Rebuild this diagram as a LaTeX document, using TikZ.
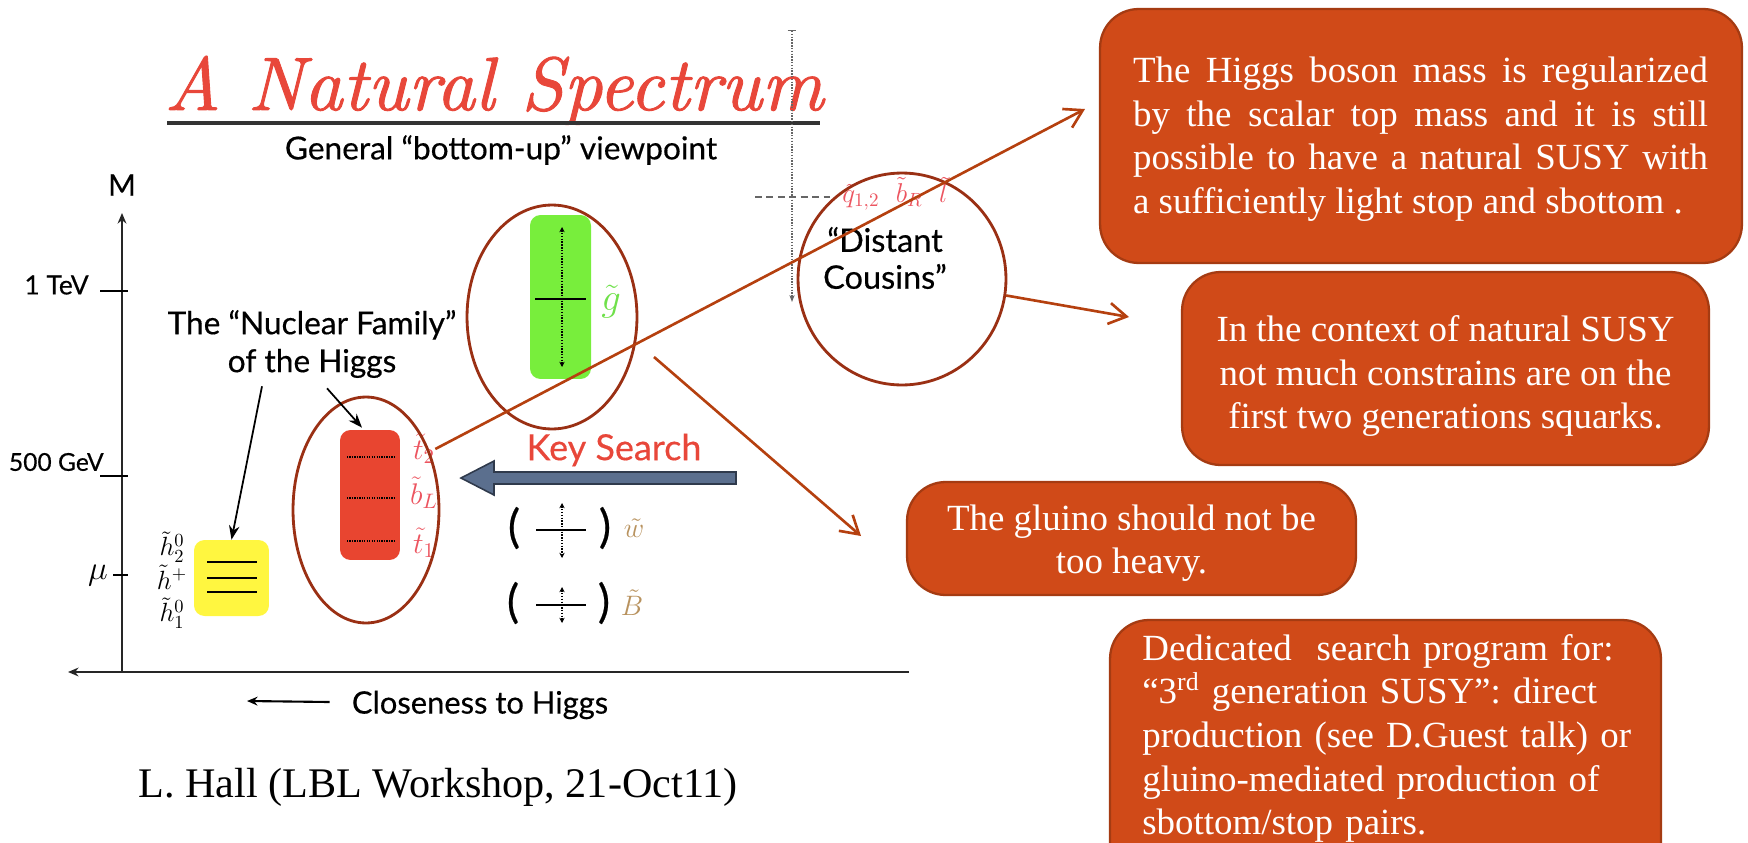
\documentclass[tikz,border=0pt]{standalone}
\usepackage{fix-cm}
\usepackage{fontspec}
\newfontfamily\boxfont{Liberation Serif}
\newfontfamily\gill[FakeBold=0.4]{Lato}
\newfontfamily\titlefont[FakeBold=1.2]{lmroman10-italic.otf}
\usetikzlibrary{arrows.meta,shapes.geometric,calc}
\definecolor{boxfill}{HTML}{D04A18}
\definecolor{boxdraw}{HTML}{A53B12}
\definecolor{conn}{HTML}{B5400F}
\definecolor{ell}{HTML}{9A3014}
\definecolor{titlered}{HTML}{E8473A}
\definecolor{sred}{HTML}{E84530}
\definecolor{sgreen}{HTML}{78EE3C}
\definecolor{syellow}{HTML}{FFF640}
\definecolor{lblred}{HTML}{EC5560}
\definecolor{lblgreen}{HTML}{6FE04A}
\definecolor{tanlbl}{HTML}{B8925E}
\definecolor{arrowfill}{HTML}{5B6F8E}
\definecolor{arrowdraw}{HTML}{2F3A4C}
\begin{document}
\begin{tikzpicture}[x=0.02cm, y=-0.02cm,
  infobox/.style={draw=boxdraw, line width=1.3pt, fill=boxfill, rounded corners=22pt, inner sep=0pt},
  boxtext/.style={inner sep=0pt, text=white, font=\boxfont\fontsize{21}{24.8}\selectfont},
  connector/.style={draw=conn, line width=1.5pt, -{Straight Barb[length=10pt,width=12pt]}},
  oval/.style={draw=ell, line width=1.6pt, ellipse, inner sep=0pt},
  sanslbl/.style={font=\gill\fontsize{16}{21}\selectfont, inner sep=0pt},
  mathlbl/.style={font=\fontsize{16}{18}\selectfont, inner sep=0pt},
  paren/.style={font=\gill\fontsize{26}{28}\selectfont, inner sep=0pt},
  axisline/.style={line width=1.3pt, draw=black!85, -{Stealth[length=6pt,width=5pt]}},
  ptr/.style={line width=1pt, -{Stealth[length=8pt,width=6pt]}},
  dotline/.style={line width=1pt, dash pattern=on 0.7pt off 0.7pt},
  dotarrow/.style={line width=0.7pt, dash pattern=on 0.8pt off 0.8pt, {Stealth[length=3pt,width=3pt]}-{Stealth[length=3pt,width=3pt]}},
  level/.style={line width=1.5pt, draw=black}
]
\useasboundingbox (0,0) rectangle (1748,842);
\clip (0,0) rectangle (1748,842);

% ---- title ----
\node[anchor=base, inner sep=0pt, text=titlered, font=\titlefont\fontsize{43}{46}\selectfont] (title) at (494,110) {A Natural Spectrum};
\draw[line width=2.3pt, draw=black!80] (167,123) -- (820,123);
\node[sanslbl, font=\gill\fontsize{18}{20}\selectfont] (sub) at (501,150) {General “bottom-up” viewpoint};

% ---- axes ----
\coordinate (origin) at (122,672);
\coordinate (ytop) at (122,213);
\coordinate (xleft) at (68,672);
\coordinate (xright) at (909,672);
\draw[axisline] (origin) -- (ytop);
\draw[axisline, line width=1.6pt] (xright) -- (xleft);
\node[sanslbl, font=\gill\fontsize{17}{20}\selectfont] (M) at (122,185) {M};
\draw[line width=1.2pt] (100,291) -- (128,291);
\draw[line width=1.2pt] (100,476) -- (128,476);
\draw[line width=1.2pt] (113,575) -- (128,575);
\node[sanslbl, anchor=east, font=\gill\fontsize{15}{18}\selectfont] (tev) at (89,285) {1 TeV};
\node[sanslbl, anchor=east, font=\gill\fontsize{14}{18}\selectfont] (gev) at (104,462) {500 GeV};
\node[mathlbl, font=\fontsize{19}{20}\selectfont] (mu) at (98,576) {$\mu$};

% ---- higgsinos ----
\node[fill=syellow, rounded corners=6pt, minimum width=1.5cm, minimum height=1.52cm, inner sep=0pt] (yel) at (231.5,578) {};
\draw[level] (207,562) -- (257,562);
\draw[level] (207,578) -- (257,578);
\draw[level] (207,592) -- (257,592);
\node[mathlbl, font=\fontsize{15}{16}\selectfont] (h2) at (172,547) {$\tilde h_2^0$};
\node[mathlbl, font=\fontsize{15}{16}\selectfont] (hp) at (172,577) {$\tilde h^{+}$};
\node[mathlbl, font=\fontsize{15}{16}\selectfont] (h1) at (172,613) {$\tilde h_1^0$};

% ---- stops ----
\node[fill=sred, rounded corners=6pt, minimum width=1.2cm, minimum height=2.6cm, inner sep=0pt] (redb) at (370,495) {};
\draw[dotline] (347,457) -- (395,457);
\draw[dotline] (347,498) -- (395,498);
\draw[dotline] (347,541) -- (395,541);
\node[mathlbl, text=lblred, font=\fontsize{17}{18}\selectfont] (t2) at (424,449) {$\tilde t_2$};
\node[mathlbl, text=lblred, font=\fontsize{17}{18}\selectfont] (bL) at (424,493) {$\tilde b_L$};
\node[mathlbl, text=lblred, font=\fontsize{17}{18}\selectfont] (t1) at (424,543) {$\tilde t_1$};
\node[oval, minimum width=2.92cm, minimum height=4.52cm] (ovA) at (366,510) {};

% ---- nuclear family label ----
\node[sanslbl, font=\gill\fontsize{18}{21.6}\selectfont, align=center] (nf) at (312,344) {The “Nuclear Family”\\of the Higgs};
\draw[ptr] ($(nf.south)+(-50,8)$) -- (yel.north);
\draw[ptr] ($(nf.south)+(15,10)$) -- ($(redb.north)+(-8,-2)$);

% ---- gluino ----
\node[fill=sgreen, rounded corners=6pt, minimum width=1.22cm, minimum height=3.28cm, inner sep=0pt] (grn) at (560.5,297) {};
\draw[level] (535,299) -- (586,299);
\draw[dotarrow] (562,227) -- (562,367);
\node[mathlbl, text=lblgreen, font=\fontsize{22}{24}\selectfont] (gl) at (611,302) {$\tilde g$};
\node[oval, minimum width=3.4cm, minimum height=4.48cm] (ovB) at (552,317) {};

% ---- key search ----
\node[sanslbl, text=titlered, font=\gill\fontsize{20.5}{24}\selectfont] (ks) at (614,450) {Key Search};
\draw[fill=arrowfill, draw=arrowdraw, line width=0.9pt, line join=miter]
  (461,478) -- (494,461) -- (494,472) -- (736,472) -- (736,484) -- (494,484) -- (494,495) -- cycle;

% ---- electroweakinos ----
\node[paren] (pw1) at (514,528) {(};
\node[paren] (pw2) at (605,528) {)};
\draw[line width=1.2pt] (536,530) -- (586,530);
\draw[dotarrow] (562,503) -- (562,558);
\node[mathlbl, text=tanlbl, font=\fontsize{16}{17}\selectfont] (wino) at (634,528) {$\tilde w$};
\node[paren] (pb1) at (513,603) {(};
\node[paren] (pb2) at (604,603) {)};
\draw[line width=1.2pt] (536,605) -- (586,605);
\draw[dotarrow] (562,587) -- (562,623);
\node[mathlbl, text=tanlbl, font=\fontsize{16}{17}\selectfont] (bino) at (632,603) {$\tilde B$};

% ---- distant cousins ----
\draw[line width=0.8pt, draw=black!60, dash pattern=on 0.8pt off 0.8pt, {Bar[width=5pt]}-{Stealth[length=4pt,width=3pt]}] (792,30) -- (792,302);
\draw[line width=1.3pt, draw=black!60, dash pattern=on 4pt off 2.5pt] (755,197) -- (830,197);
\node[mathlbl, text=lblred, font=\fontsize{15.5}{16}\selectfont, anchor=west] (sq) at (842,194) {$\tilde q_{1,2}\ \ \tilde b_R\ \ \tilde l$};
\node[sanslbl, align=center, font=\gill\fontsize{18.5}{21}\selectfont] (dc) at (885,258) {“Distant\\Cousins”};
\node[oval, minimum width=4.16cm, minimum height=4.24cm] (ovC) at (902,279) {};

% ---- bottom labels ----
\node[sanslbl, font=\gill\fontsize{17.6}{20}\selectfont] (close) at (480,705) {Closeness to Higgs};
\coordinate (clend) at (247,701);
\draw[line width=1.2pt, -{Stealth[length=6pt,width=5pt]}] ($(close.west)+(-22,-3)$) -- (clend);
\node[inner sep=0pt, font=\boxfont\fontsize{24}{28}\selectfont] (ref) at (438,787) {L. Hall (LBL Workshop, 21-Oct11)};

% ---- info boxes ----
\node[infobox, minimum width=12.84cm, minimum height=5.08cm] (b1) at (1421,136) {};
\node[boxtext, text width=11.5cm, align=justify] (b1t) at (1420.5,139)
  {The Higgs boson mass is regularized\linebreak by the scalar top mass and it is still\linebreak possible to have a natural SUSY with\linebreak a sufficiently light stop and sbottom .};
\node[infobox, minimum width=10.54cm, minimum height=3.86cm] (b2) at (1445.5,368.5) {};
\node[boxtext, align=center] (b2t) at (1445.5,376)
  {In the context of natural SUSY\\not much constrains are on the\\first two generations squarks.};
\node[infobox, minimum width=8.98cm, minimum height=2.26cm] (b3) at (1131.5,538.5) {};
\node[boxtext, align=center] (b3t) at (1131.5,543)
  {The gluino should not be\\too heavy.};
\node[infobox, minimum width=11.02cm, minimum height=5.4cm] (b4) at (1385.5,755) {};
\node[boxtext, anchor=north west, text width=9.8cm, align=left] (b4t) at (1142,634)
  {Dedicated\ \ search program for:\\\makebox[9.74cm][s]{“3\textsuperscript{rd} generation SUSY”: direct}\\production (see D.Guest talk) or\\gluino-mediated production of\\sbottom/stop pairs.};

% ---- connectors ----
\coordinate (c1end) at (1085,109);
\draw[connector] (t2.east) -- (c1end);
\coordinate (c2start) at (654,357);
\coordinate (c2end) at (861,536);
\draw[connector] (c2start) -- (c2end);
\coordinate (c3end) at (1129,317);
\draw[connector] (ovC.-9) -- (c3end);
\end{tikzpicture}
\end{document}
